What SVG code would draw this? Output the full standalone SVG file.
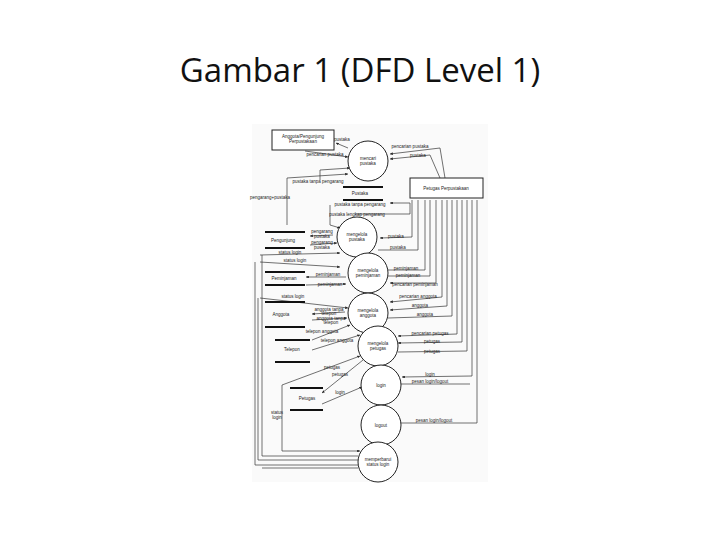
<svg xmlns="http://www.w3.org/2000/svg" width="720" height="540" viewBox="0 0 720 540">
<defs>
<marker id="a" viewBox="0 0 6 6" refX="6" refY="3" markerWidth="4" markerHeight="4" orient="auto"><path d="M0,0L6,3L0,6z" fill="#222"/></marker>
<style>
.t{font-family:"Liberation Sans",Arial,sans-serif;font-size:4.5px;fill:#222;text-anchor:middle}
.p{fill:#fff;stroke:#222;stroke-width:1}
.s{stroke:#111;stroke-width:2}
.c{fill:none;stroke:#333;stroke-width:0.7;marker-end:url(#a)}
.l{fill:none;stroke:#333;stroke-width:0.7}
</style>
</defs>
<rect width="720" height="540" fill="#fff"/>
<text x="360" y="82" font-family="'Open Sans','Liberation Sans',sans-serif" font-size="33" text-anchor="middle" fill="#111">Gambar 1 (DFD Level 1)</text>
<rect x="252" y="124" width="236" height="358" fill="#fafafa"/>
<g id="connectors">
<path class="c" d="M348,148L336,143"/><text class="t" x="342" y="141">pustaka</text>
<path class="c" d="M305,151L348,157"/><text class="t" x="325" y="156">pencarian pustaka</text>
<path class="c" d="M440,148L390,154"/><text class="t" x="410" y="148">pencarian pustaka</text>
<path class="c" d="M430,155L390,159"/><text class="t" x="418" y="157">pustaka</text>
<path class="l" d="M440,148L445,178M430,155L440,178"/>
<path class="c" d="M320,180L320,170L350,168"/><text class="t" x="318" y="183">pustaka tanpa pengarang</text>
<path class="c" d="M287,225L287,178L348,174"/><text class="t" x="270" y="199">pengarang+pustaka</text>
<path class="c" d="M330,205L330,225L340,228"/><text class="t" x="360" y="206">pustaka tanpa pengarang</text>
<text class="t" x="357" y="216">pustaka lengkap pengarang</text>
<path class="c" d="M355,214L410,214L410,203L390,203"/>
<path class="c" d="M333,235L310,236"/><text class="t" x="322" y="233">pengarang</text><text class="t" x="322" y="238">pustaka</text>
<path class="c" d="M310,245L337,243"/><text class="t" x="322" y="244">pengarang</text><text class="t" x="322" y="249">pustaka</text>
<path class="c" d="M412,200L412,237L380,238"/><text class="t" x="396" y="238">pustaka</text>
<path class="l" d="M378,250L418,250L418,200"/><text class="t" x="398" y="249">pustaka</text>
<path class="c" d="M260,255L340,253"/><text class="t" x="290" y="254">status login</text>
<path class="c" d="M260,262L340,267"/><text class="t" x="295" y="262">status login</text>
<path class="c" d="M346,277L306,277"/><text class="t" x="328" y="276">peminjaman</text>
<path class="c" d="M306,285L346,284"/><text class="t" x="330" y="286">peminjaman</text>
<path class="l" d="M388,270L425,270L425,200M388,276L430,276L430,200"/><text class="t" x="406" y="270">peminjaman</text><text class="t" x="408" y="277">peminjaman</text>
<path class="c" d="M436,200L436,283L390,283"/><text class="t" x="415" y="286">pencarian peminjaman</text>
<path class="c" d="M260,298L348,308"/><text class="t" x="293" y="298">status login</text>
<path class="c" d="M345,312L312,314"/><text class="t" x="329" y="311">anggota tanpa</text><text class="t" x="329" y="315">telepon</text>
<path class="c" d="M312,320L347,318"/><text class="t" x="331" y="320">anggota tanpa</text><text class="t" x="331" y="324">telepon</text>
<path class="c" d="M442,200L442,297L390,302"/><text class="t" x="418" y="298">pencarian anggota</text>
<path class="c" d="M447,200L447,306L390,310"/><text class="t" x="420" y="307">anggota</text>
<path class="l" d="M388,318L452,316L452,200"/><text class="t" x="425" y="316">anggota</text>
<path class="c" d="M312,340L350,325"/><text class="t" x="322" y="333">telepon anggota</text>
<path class="c" d="M312,350L360,335"/><text class="t" x="337" y="342">telepon anggota</text>
<path class="c" d="M457,200L457,334L398,336"/><text class="t" x="430" y="335">pencarian petugas</text>
<path class="c" d="M462,200L462,342L398,343"/><text class="t" x="432" y="343">petugas</text>
<path class="l" d="M398,352L467,351L467,200"/><text class="t" x="432" y="353">petugas</text>
<path class="c" d="M282,385L360,356"/><text class="t" x="332" y="369">petugas</text>
<path class="c" d="M368,356L322,393"/><text class="t" x="340" y="376">petugas</text>
<path class="c" d="M322,404L362,387"/><text class="t" x="340" y="394">login</text>
<path class="c" d="M472,200L472,376L402,377"/><text class="t" x="430" y="376">login</text>
<path class="l" d="M400,384L470,384"/><text class="t" x="430" y="383">pesan login/logout</text>
<path class="l" d="M400,423L477,423L477,200"/><text class="t" x="434" y="422">pesan login/logout</text>
<path class="c" d="M282,385L282,451L360,451"/><text class="t" x="277" y="414">status</text><text class="t" x="277" y="419">login</text>
<path class="l" d="M358,456L262,456L262,255M358,460L258,460L258,298M358,465L255,465L255,262"/>
<path class="l" d="M358,468L262,468"/>
</g>
<g id="anggota-pengunjung"><rect class="p" x="272" y="130" width="62" height="20"/><text class="t" x="303" y="138">Anggota/Pengunjung</text><text class="t" x="303" y="143">Perpustakaan</text></g>
<g id="petugas-perpustakaan"><rect class="p" x="410" y="178" width="73" height="20"/><text class="t" x="446" y="190">Petugas Perpustakaan</text></g>
<g id="mencari-pustaka"><circle class="p" cx="368" cy="161" r="20"/><text class="t" x="368" y="160">mencari</text><text class="t" x="368" y="165">pustaka</text></g>
<g id="ds-pustaka"><line class="s" x1="343" y1="187" x2="383" y2="187"/><line class="s" x1="343" y1="200" x2="383" y2="200"/><text class="t" x="360" y="195">Pustaka</text></g>
<g id="mengelola-pustaka"><circle class="p" cx="357" cy="237" r="20"/><text class="t" x="357" y="236">mengelola</text><text class="t" x="357" y="241">pustaka</text></g>
<g id="ds-pengunjung"><line class="s" x1="265" y1="232" x2="305" y2="232"/><line class="s" x1="265" y1="248" x2="305" y2="248"/><text class="t" x="283" y="242">Pengunjung</text></g>
<g id="mengelola-peminjaman"><circle class="p" cx="368" cy="273" r="20"/><text class="t" x="368" y="272">mengelola</text><text class="t" x="368" y="277">peminjaman</text></g>
<g id="ds-peminjaman"><line class="s" x1="265" y1="272" x2="305" y2="272"/><line class="s" x1="265" y1="285" x2="305" y2="285"/><text class="t" x="284" y="280">Peminjaman</text></g>
<g id="mengelola-anggota"><circle class="p" cx="368" cy="313" r="20"/><text class="t" x="368" y="312">mengelola</text><text class="t" x="368" y="317">anggota</text></g>
<g id="ds-anggota"><line class="s" x1="265" y1="302" x2="305" y2="302"/><line class="s" x1="265" y1="327" x2="305" y2="327"/><text class="t" x="281" y="316">Anggota</text></g>
<g id="mengelola-petugas"><circle class="p" cx="378" cy="346" r="20"/><text class="t" x="378" y="345">mengelola</text><text class="t" x="378" y="350">petugas</text></g>
<g id="ds-telepon"><line class="s" x1="275" y1="340" x2="310" y2="340"/><line class="s" x1="275" y1="362" x2="310" y2="362"/><text class="t" x="292" y="351">Telepon</text></g>
<g id="login"><circle class="p" cx="381" cy="385" r="20"/><text class="t" x="381" y="387">login</text></g>
<g id="ds-petugas"><line class="s" x1="290" y1="388" x2="323" y2="388"/><line class="s" x1="290" y1="410" x2="323" y2="410"/><text class="t" x="307" y="400">Petugas</text></g>
<g id="logout"><circle class="p" cx="381" cy="425" r="20"/><text class="t" x="381" y="427">logout</text></g>
<g id="memperbarui"><circle class="p" cx="378" cy="462" r="20"/><text class="t" x="378" y="461">memperbarui</text><text class="t" x="378" y="466">status login</text></g>
</svg>
